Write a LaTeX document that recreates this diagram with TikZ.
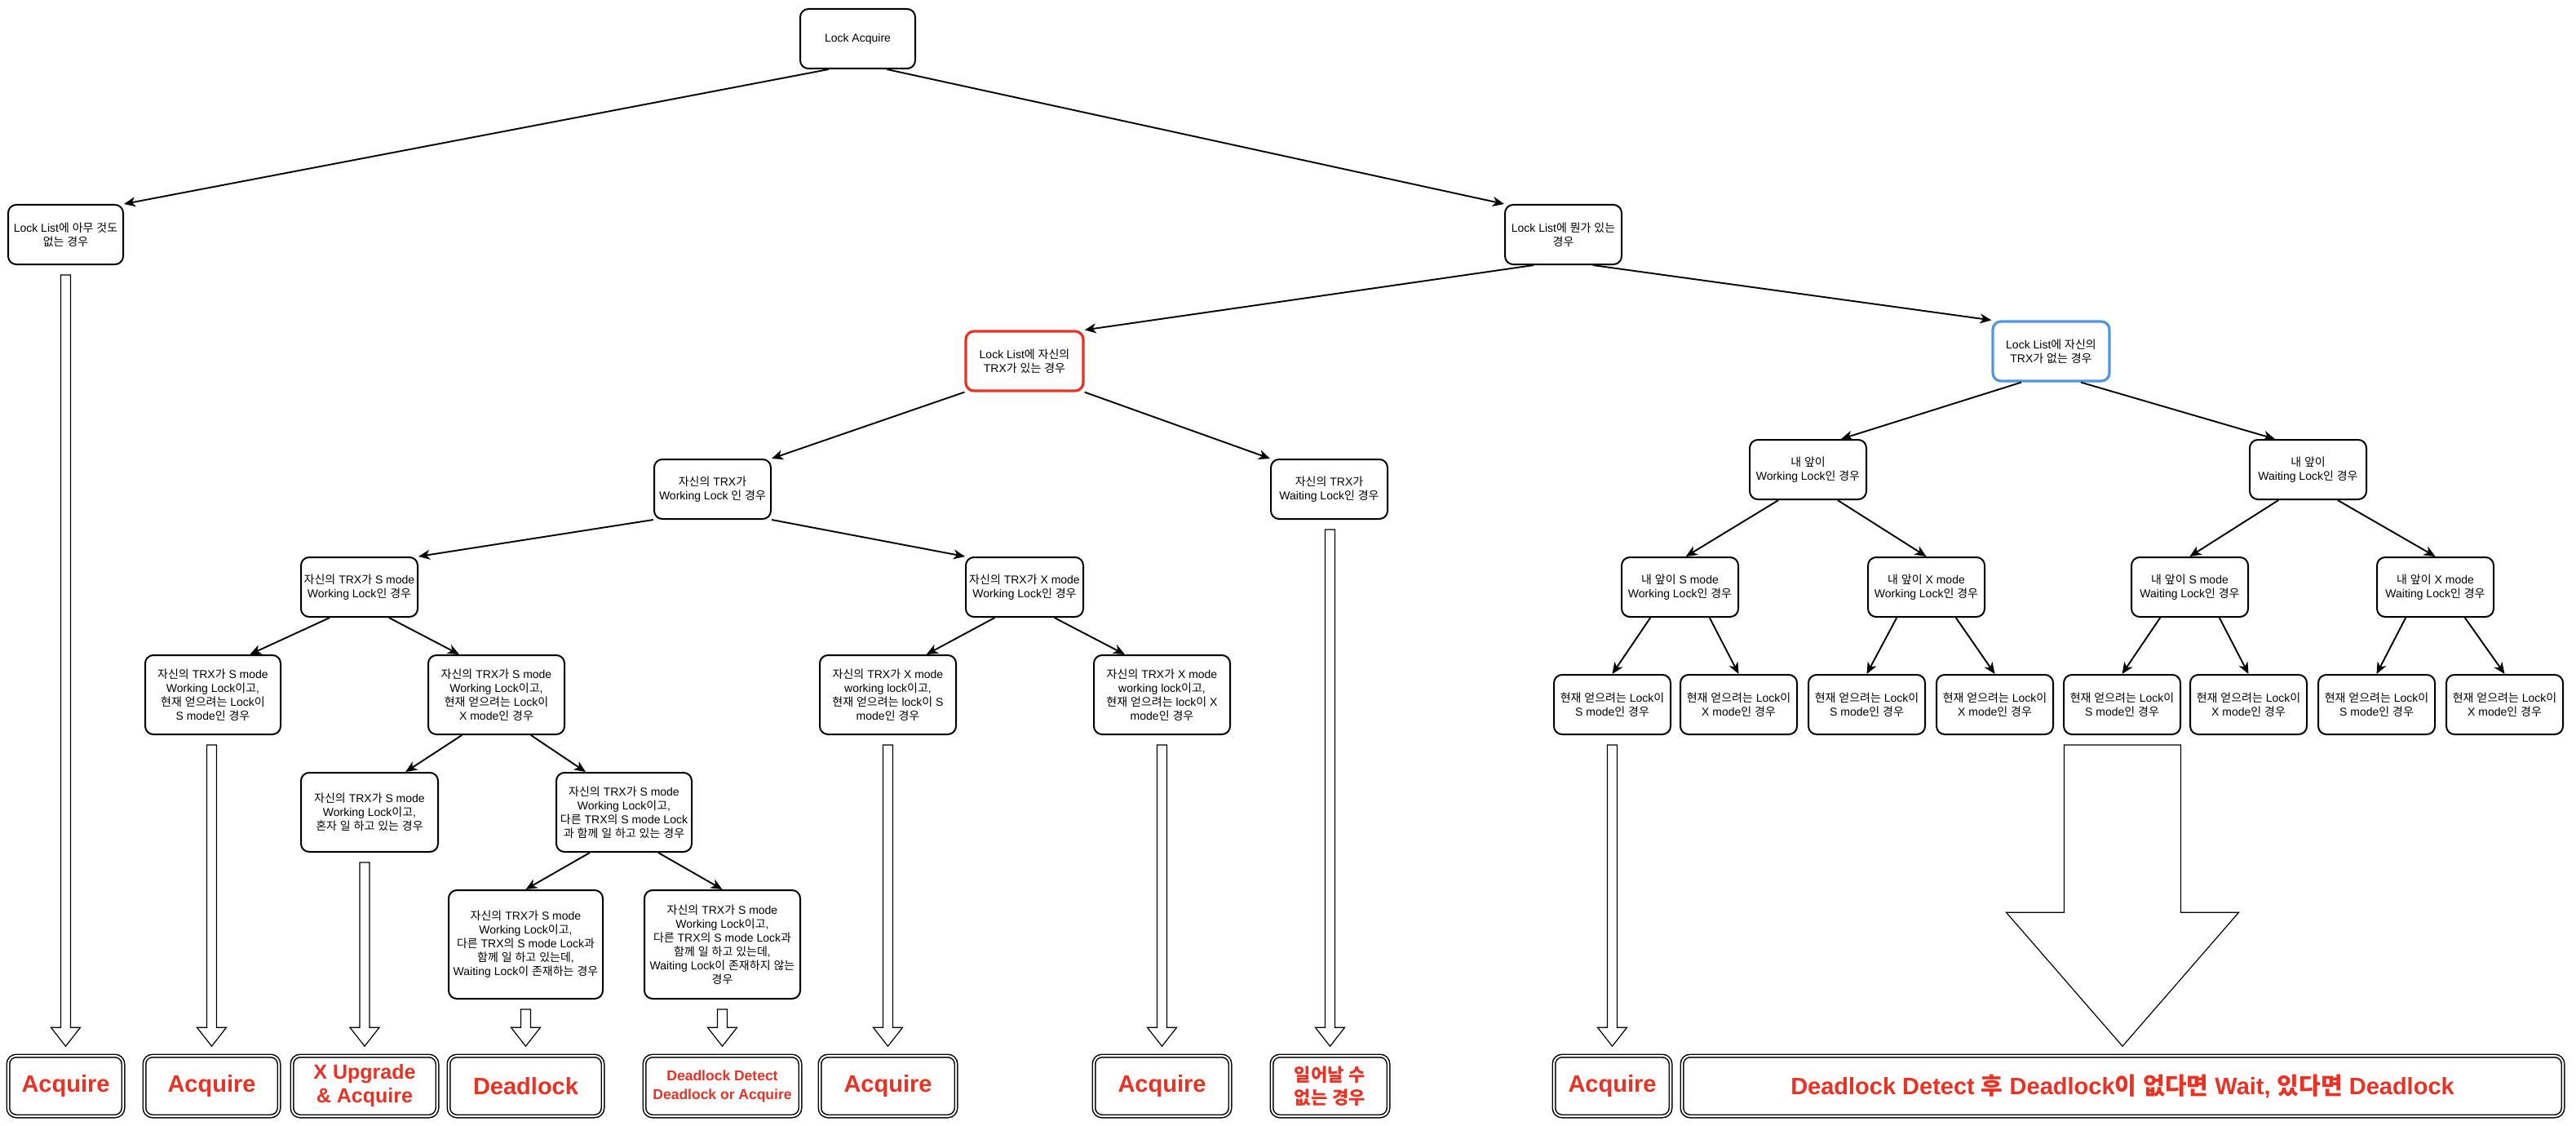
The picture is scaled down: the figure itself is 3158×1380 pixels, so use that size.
\documentclass[tikz,border=0pt]{standalone}
\usepackage{fontspec}
\setmainfont{Liberation Sans}
\newfontfamily\krfont{Noto Sans CJK KR}
\usetikzlibrary{arrows.meta,calc}
\XeTeXinterchartokenstate=1
\newXeTeXintercharclass\KRclass
\newcount\krcnt
\krcnt="AC00
\loop
  \XeTeXcharclass\krcnt=\KRclass
  \ifnum\krcnt<"D7A3 \advance\krcnt by 1
\repeat
\XeTeXinterchartoks 0 \KRclass={\krfont}
\XeTeXinterchartoks 4095 \KRclass={\krfont}
\XeTeXinterchartoks \KRclass 0={\rmfamily}
\XeTeXinterchartoks \KRclass 4095={\rmfamily}
\definecolor{resred}{RGB}{233,50,35}
\definecolor{selblue}{RGB}{80,150,230}
\tikzset{
  box/.style={draw, rounded corners=5pt, line width=1pt, align=center, inner sep=1pt,
    font=\fontsize{7}{8.5}\selectfont, minimum width=71.5pt, minimum height=36.5pt},
  tallbox/.style={box, minimum height=48.5pt},
  res/.style={draw, double, double distance=1pt, line width=0.75pt, rounded corners=5pt,
    align=center, text=resred, inner sep=1pt, minimum height=37pt,
    font=\bfseries\fontsize{14.5}{17}\selectfont},
  edge/.style={-{Stealth[length=7pt,width=6pt,inset=2pt]}, line width=0.95pt},
  blk/.style={draw, line width=0.6pt, fill=white, line join=miter},
}
\newcommand\edg[4]{\draw[edge] ($(#1.south west)!#2!(#1.south east)$) -- ($(#3.north west)!#4!(#3.north east)$);}
\newcommand\barrow[5]{%
  \draw[blk] let \p1=(#1.south), \p2=(#2.north) in
   (\x2-#3,\y1-6pt) -- (\x2+#3,\y1-6pt) -- (\x2+#3,\y2+5.5pt+#5) -- (\x2+#4,\y2+5.5pt+#5)
   -- (\x2,\y2+5.5pt) -- (\x2-#4,\y2+5.5pt+#5) -- (\x2-#3,\y2+5.5pt+#5) -- cycle;}
\begin{document}
\begin{tikzpicture}[x=0.5pt,y=-0.5pt]
\fill[white] (0,0) rectangle (3158,1380);
\useasboundingbox (0,0) rectangle (3158,1380);

% level 0-2
\node[box, minimum width=70.5pt] (n0) at (1051.5,47.5) {Lock Acquire};
\node[box, minimum width=70.5pt] (n1a) at (80.5,287.5) {Lock List에 아무 것도\\없는 경우};
\node[box] (n1b) at (1916.5,287.5) {Lock List에 뭔가 있는\\경우};
\node[box, minimum width=72pt, draw=resred, line width=1.6pt] (n2a) at (1256,442.5) {Lock List에 자신의\\TRX가 있는 경우};
\node[box, draw=selblue, line width=1.6pt] (n2b) at (2514.5,430.5) {Lock List에 자신의\\TRX가 없는 경우};

% level 3
\node[box] (n3a) at (873.5,599.5) {자신의 TRX가\\Working Lock 인 경우};
\node[box] (n3b) at (1629.5,599.5) {자신의 TRX가\\Waiting Lock인 경우};
\node[box] (n3c) at (2216.5,575.5) {내 앞이\\Working Lock인 경우};
\node[box] (n3d) at (2829.5,575.5) {내 앞이\\Waiting Lock인 경우};

% level 4
\node[box] (n4a) at (440.5,719.5) {자신의 TRX가 S mode\\Working Lock인 경우};
\node[box, minimum width=72pt] (n4b) at (1256,719.5) {자신의 TRX가 X mode\\Working Lock인 경우};
\node[box] (n4c) at (2059.5,719.5) {내 앞이 S mode\\Working Lock인 경우};
\node[box] (n4d) at (2361.5,719.5) {내 앞이 X mode\\Working Lock인 경우};
\node[box] (n4e) at (2684.5,719.5) {내 앞이 S mode\\Waiting Lock인 경우};
\node[box] (n4f) at (2985.5,719.5) {내 앞이 X mode\\Waiting Lock인 경우};

% level 5
\node[tallbox, minimum width=83pt] (n5a) at (261,851.5) {자신의 TRX가 S mode\\Working Lock이고,\\현재 얻으려는 Lock이\\S mode인 경우};
\node[tallbox, minimum width=83.5pt] (n5b) at (608.5,851.5) {자신의 TRX가 S mode\\Working Lock이고,\\현재 얻으려는 Lock이\\X mode인 경우};
\node[tallbox, minimum width=83.5pt] (n5c) at (1088.5,851.5) {자신의 TRX가 X mode\\working lock이고,\\현재 얻으려는 lock이 S\\mode인 경우};
\node[tallbox, minimum width=83.5pt] (n5d) at (1424.5,851.5) {자신의 TRX가 X mode\\working lock이고,\\현재 얻으려는 lock이 X\\mode인 경우};
\node[box] (n5e) at (1976.5,863.5) {현재 얻으려는 Lock이\\S mode인 경우};
\node[box] (n5f) at (2131.5,863.5) {현재 얻으려는 Lock이\\X mode인 경우};
\node[box] (n5g) at (2288.5,863.5) {현재 얻으려는 Lock이\\S mode인 경우};
\node[box] (n5h) at (2445.5,863.5) {현재 얻으려는 Lock이\\X mode인 경우};
\node[box] (n5i) at (2601.5,863.5) {현재 얻으려는 Lock이\\S mode인 경우};
\node[box] (n5j) at (2756.5,863.5) {현재 얻으려는 Lock이\\X mode인 경우};
\node[box] (n5k) at (2913.5,863.5) {현재 얻으려는 Lock이\\S mode인 경우};
\node[box] (n5l) at (3070.5,863.5) {현재 얻으려는 Lock이\\X mode인 경우};

% level 6-7
\node[tallbox, minimum width=84pt] (n6a) at (453,995.5) {자신의 TRX가 S mode\\Working Lock이고,\\혼자 일 하고 있는 경우};
\node[tallbox, minimum width=83pt] (n6b) at (765,995.5) {자신의 TRX가 S mode\\Working Lock이고,\\다른 TRX의 S mode Lock\\과 함께 일 하고 있는 경우};
\node[box, minimum width=94.5pt, minimum height=66.5pt] (n7a) at (644.5,1157.5) {자신의 TRX가 S mode\\Working Lock이고,\\다른 TRX의 S mode Lock과\\함께 일 하고 있는데,\\Waiting Lock이 존재하는 경우};
\node[box, minimum width=95.5pt, minimum height=66.5pt] (n7b) at (885.5,1157.5) {자신의 TRX가 S mode\\Working Lock이고,\\다른 TRX의 S mode Lock과\\함께 일 하고 있는데,\\Waiting Lock이 존재하지 않는\\경우};

% results
\node[res, minimum width=70.5pt] (r1) at (80.5,1331) {Acquire};
\node[res, minimum width=82.5pt] (r2) at (259.5,1331) {Acquire};
\node[res, minimum width=89pt, font=\bfseries\fontsize{12.5}{14.5}\selectfont] (r3) at (447,1331) {X Upgrade\\\& Acquire};
\node[res, minimum width=94.5pt] (r4) at (644.5,1331) {Deadlock};
\node[res, minimum width=95.5pt, font=\bfseries\fontsize{8.75}{11.5}\selectfont] (r5) at (885.5,1331) {Deadlock Detect\\Deadlock or Acquire};
\node[res, minimum width=83.5pt] (r6) at (1088.5,1331) {Acquire};
\node[res, minimum width=83.5pt] (r7) at (1424.5,1331) {Acquire};
\node[res, minimum width=71.5pt, font=\bfseries\fontsize{11}{14}\selectfont] (r8) at (1630.5,1331) {일어날 수\\없는 경우};
\node[res, minimum width=71.5pt] (r9) at (1976.5,1331) {Acquire};
\node[res, minimum width=540pt] (r10) at (2602,1331) {Deadlock Detect 후 Deadlock이 없다면 Wait, 있다면 Deadlock};

% connectors
\edg{n0}{0.25}{n1a}{1}
\edg{n0}{0.75}{n1b}{0}
\edg{n1b}{0.25}{n2a}{1}
\edg{n1b}{0.75}{n2b}{0}
\edg{n2a}{0}{n3a}{1}
\edg{n2a}{1}{n3b}{0}
\edg{n2b}{0.25}{n3c}{0.78}
\edg{n2b}{0.75}{n3d}{0.22}
\edg{n3a}{0}{n4a}{1}
\edg{n3a}{1}{n4b}{0}
\edg{n4a}{0.25}{n5a}{0.77}
\edg{n4a}{0.75}{n5b}{0.23}
\edg{n4b}{0.25}{n5c}{0.78}
\edg{n4b}{0.75}{n5d}{0.23}
\edg{n5b}{0.25}{n6a}{0.76}
\edg{n5b}{0.75}{n6b}{0.22}
\edg{n6b}{0.25}{n7a}{0.5}
\edg{n6b}{0.75}{n7b}{0.5}
\edg{n3c}{0.25}{n4c}{0.55}
\edg{n3c}{0.75}{n4d}{0.5}
\edg{n3d}{0.25}{n4e}{0.5}
\edg{n3d}{0.75}{n4f}{0.5}
\edg{n4c}{0.25}{n5e}{0.5}
\edg{n4c}{0.75}{n5f}{0.5}
\edg{n4d}{0.25}{n5g}{0.5}
\edg{n4d}{0.75}{n5h}{0.5}
\edg{n4e}{0.25}{n5i}{0.5}
\edg{n4e}{0.75}{n5j}{0.5}
\edg{n4f}{0.25}{n5k}{0.5}
\edg{n4f}{0.75}{n5l}{0.5}

% block arrows
\barrow{n1a}{r1}{3pt}{9pt}{11.5pt}
\barrow{n5a}{r2}{3pt}{9pt}{11.5pt}
\barrow{n6a}{r3}{3pt}{9pt}{11.5pt}
\barrow{n7a}{r4}{3pt}{9pt}{11.5pt}
\barrow{n7b}{r5}{3pt}{9pt}{11.5pt}
\barrow{n5c}{r6}{3pt}{9pt}{11.5pt}
\barrow{n5d}{r7}{3pt}{9pt}{11.5pt}
\barrow{n3b}{r8}{3pt}{9pt}{11.5pt}
\barrow{n5e}{r9}{3pt}{9pt}{11.5pt}
\barrow{n5i}{r10}{35.75pt}{71.25pt}{82pt}
\end{tikzpicture}
\end{document}
